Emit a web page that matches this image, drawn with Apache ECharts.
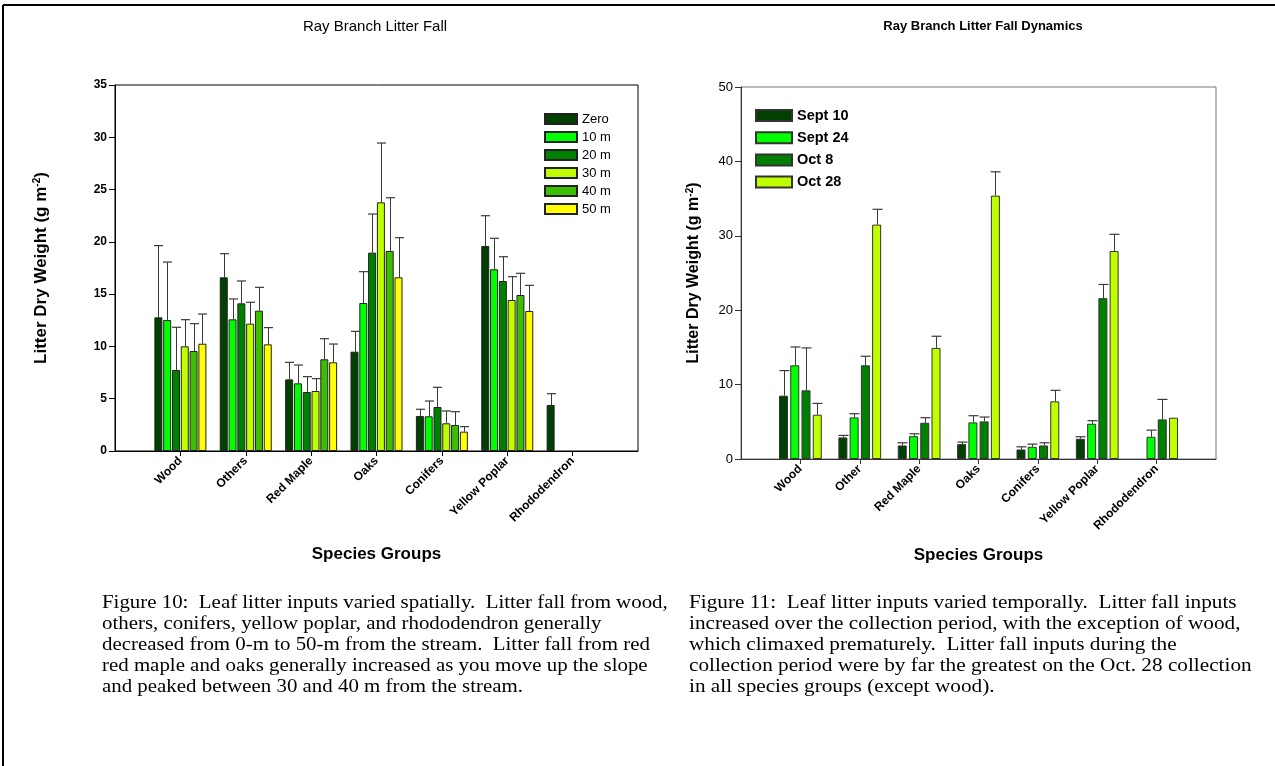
<!DOCTYPE html>
<html>
<head>
<meta charset="utf-8">
<script src="https://cdn.jsdelivr.net/npm/echarts@6/dist/echarts.min.js"></script>
<style>
html,body{margin:0;padding:0;background:#fff;}
#c{width:1275px;height:766px;}
</style>
</head>
<body>
<div id="c"></div>
<script>
// ---- Figure 10 data (spatial) ----
const catsLeft = ['Wood','Others','Red Maple','Oaks','Conifers','Yellow Poplar','Rhododendron'];
const seriesLeft = ['Zero','10 m','20 m','30 m','40 m','50 m'];
const zeroVals   = [12.78, 16.61, 6.85, 9.50, 3.35, 19.60, 4.40];
const zeroErr    = [19.64, 18.87, 8.48, 11.44, 3.99, 22.50, 5.48];
const m10Vals    = [12.53, 12.59, 6.47, 14.15, 3.32, 17.38, null];
const m10Err     = [18.07, 14.54, 8.22, 17.15, 4.78, 20.34, null];
const m20Vals    = [7.75, 14.12, 5.64, 18.97, 4.21, 16.26, null];
const m20Err     = [11.83, 16.26, 7.11, 22.66, 6.09, 18.58, null];
const m30Vals    = [10.01, 12.18, 5.74, 23.78, 2.65, 14.44, null];
const m30Err     = [12.56, 14.22, 6.92, 29.45, 3.83, 16.67, null];
const m40Vals    = [9.56, 13.42, 8.77, 19.13, 2.49, 14.92, null];
const m40Err     = [12.18, 15.65, 10.74, 24.22, 3.76, 16.99, null];
const m50Vals    = [10.26, 10.20, 8.48, 16.61, 1.85, 13.39, null];
const m50Err     = [13.10, 11.80, 10.23, 20.40, 2.33, 15.84, null];
const yTicksLeft = [0, 5, 10, 15, 20, 25, 30, 35];

// ---- Figure 11 data (temporal) ----
const catsRight = ['Wood','Other','Red Maple','Oaks','Conifers','Yellow Poplar','Rhododendron'];
const seriesRight = ['Sept 10','Sept 24','Oct 8','Oct 28'];
const sep10Vals = [8.51, 2.90, 1.82, 2.00, 1.28, 2.72, null];
const sep10Err  = [11.88, 3.17, 2.18, 2.27, 1.64, 2.99, null];
const sep24Vals = [12.59, 5.59, 3.07, 4.92, 1.64, 4.74, 2.99];
const sep24Err  = [15.06, 6.09, 3.39, 5.82, 2.00, 5.15, 3.88];
const oct8Vals  = [9.23, 12.59, 4.87, 5.05, 1.82, 21.62, 5.32];
const oct8Err   = [14.93, 13.81, 5.55, 5.64, 2.18, 23.46, 8.01];
const oct28Vals = [5.95, 31.50, 14.93, 35.40, 7.75, 27.95, 5.55];
const oct28Err  = [7.47, 33.56, 16.50, 38.60, 9.23, 30.20, null];
const yTicksRight = [0, 10, 20, 30, 40, 50];

const colorsLeft  = ['#004000', '#00FF00', '#008000', '#C0FF00', '#3CBF00', '#FFFF00'];
const colorsRight = ['#004000', '#00FF00', '#008000', '#C0FF00'];

const FONT = '"Liberation Sans", Arial, sans-serif';
const SERIF = '18px "Liberation Serif", "Times New Roman", serif';
const pad = arr => [null].concat(arr, [null]);

const leftVals = [zeroVals, m10Vals, m20Vals, m30Vals, m40Vals, m50Vals];
const leftErrs = [zeroErr, m10Err, m20Err, m30Err, m40Err, m50Err];
const rightVals = [sep10Vals, sep24Vals, oct8Vals, oct28Vals];
const rightErrs = [sep10Err, sep24Err, oct8Err, oct28Err];

const LBW = 8, LGAP = 0.1;
const RBW = 9, RGAP = 0.25;

function errSeries(gridIdx, vals, errs, i, n, bw, gap, color) {
  const step = bw * (1 + gap);
  const off = (i - (n - 1) / 2) * step;
  const data = [];
  vals.forEach((v, k) => {
    if (v != null && errs[k] != null) data.push([k + 1, v, errs[k]]);
  });
  return {
    type: 'custom',
    xAxisIndex: gridIdx, yAxisIndex: gridIdx,
    z: 5,
    silent: true,
    data: data,
    encode: { x: 0, y: [1, 2] },
    renderItem: function (params, api) {
      const c = api.value(0);
      const p0 = api.coord([c, api.value(1)]);
      const p1 = api.coord([c, api.value(2)]);
      const x = Math.round(p0[0] + off) + 0.5;
      const half = bw / 2 + 0.5;
      return {
        type: 'group',
        children: [
          { type: 'line', shape: { x1: x, y1: p0[1], x2: x, y2: p1[1] }, style: { stroke: color, lineWidth: 1 } },
          { type: 'line', shape: { x1: x - half, y1: p1[1], x2: x + half, y2: p1[1] }, style: { stroke: color, lineWidth: 1.2 } }
        ]
      };
    }
  };
}

const series = [];
seriesLeft.forEach((name, i) => {
  series.push({
    type: 'bar', name: name, xAxisIndex: 0, yAxisIndex: 0,
    data: pad(leftVals[i]),
    barWidth: LBW, barGap: (LGAP * 100) + '%',
    itemStyle: { color: colorsLeft[i], borderColor: '#222', borderWidth: 1 },
    z: 3
  });
});
seriesLeft.forEach((name, i) => {
  series.push(errSeries(0, leftVals[i], leftErrs[i], i, seriesLeft.length, LBW, LGAP, '#3a3a3a'));
});
seriesRight.forEach((name, i) => {
  series.push({
    type: 'bar', name: name, xAxisIndex: 1, yAxisIndex: 1,
    data: pad(rightVals[i]),
    barWidth: RBW, barGap: (RGAP * 100) + '%',
    itemStyle: { color: colorsRight[i], borderColor: '#333', borderWidth: 1 },
    z: 3
  });
});
seriesRight.forEach((name, i) => {
  series.push(errSeries(1, rightVals[i], rightErrs[i], i, seriesRight.length, RBW, RGAP, '#3a3a3a'));
});

const tickShow = (idx) => idx > 0 && idx < 8;

const captionLeft = [
  'Figure 10:  Leaf litter inputs varied spatially.  Litter fall from wood,',
  'others, conifers, yellow poplar, and rhododendron generally',
  'decreased from 0-m to 50-m from the stream.  Litter fall from red',
  'red maple and oaks generally increased as you move up the slope',
  'and peaked between 30 and 40 m from the stream.'
];
const captionRight = [
  'Figure 11:  Leaf litter inputs varied temporally.  Litter fall inputs',
  'increased over the collection period, with the exception of wood,',
  'which climaxed prematurely.  Litter fall inputs during the',
  'collection period were by far the greatest on the Oct. 28 collection',
  'in all species groups (except wood).'
];

const graphics = [
  { type: 'line', shape: { x1: 3, y1: 5, x2: 1275, y2: 5 }, style: { stroke: '#000', lineWidth: 2 } },
  { type: 'line', shape: { x1: 3, y1: 5, x2: 3, y2: 766 }, style: { stroke: '#000', lineWidth: 2 } }
];
captionLeft.forEach((t, k) => graphics.push({
  type: 'text', x: 102, y: 603 + k * 21, scaleX: 1.16,
  style: { text: t, font: SERIF, fill: '#000', verticalAlign: 'middle', align: 'left' }
}));
captionRight.forEach((t, k) => graphics.push({
  type: 'text', x: 689, y: 603 + k * 21, scaleX: 1.18,
  style: { text: t, font: SERIF, fill: '#000', verticalAlign: 'middle', align: 'left' }
}));

const option = {
  animation: false,
  backgroundColor: '#fff',
  textStyle: { fontFamily: FONT },
  title: [
    { text: 'Ray Branch Litter Fall', left: 370, top: 14, textAlign: 'center',
      textStyle: { fontFamily: FONT, fontSize: 15, fontWeight: 'normal', color: '#000' } },
    { text: 'Ray Branch Litter Fall Dynamics', left: 978, top: 15, textAlign: 'center',
      textStyle: { fontFamily: FONT, fontSize: 13, fontWeight: 'bold', color: '#000' } }
  ],
  legend: [
    { data: seriesLeft, orient: 'vertical', left: 539, top: 107.5, icon: 'rect', itemWidth: 32, itemHeight: 10, itemGap: 5,
      textStyle: { fontFamily: FONT, fontSize: 13, color: '#000' }, selectedMode: false },
    { data: seriesRight, orient: 'vertical', left: 750, top: 103, icon: 'rect', itemWidth: 36, itemHeight: 11, itemGap: 7.2,
      textStyle: { fontFamily: FONT, fontSize: 14.5, fontWeight: 'bold', color: '#000' }, selectedMode: false }
  ],
  grid: [
    { left: 115, top: 85, width: 523, height: 366, show: true, borderColor: '#000', borderWidth: 1, containLabel: false },
    { left: 741, top: 87, width: 475, height: 372, show: true, borderColor: '#777', borderWidth: 1, containLabel: false }
  ],
  xAxis: [
    { type: 'category', gridIndex: 0, data: pad(catsLeft), boundaryGap: false,
      axisLine: { lineStyle: { color: '#000', width: 1 } },
      axisTick: { show: true, interval: tickShow, length: 5, lineStyle: { color: '#000' } },
      axisLabel: { interval: tickShow, rotate: 45, margin: 8, fontFamily: FONT, fontSize: 12, fontWeight: 'bold', color: '#000' },
      splitLine: { show: false },
      name: 'Species Groups', nameLocation: 'middle', nameGap: 95,
      nameTextStyle: { fontFamily: FONT, fontSize: 17, fontWeight: 'bold', color: '#000' } },
    { type: 'category', gridIndex: 1, data: pad(catsRight), boundaryGap: false,
      axisLine: { lineStyle: { color: '#333', width: 1 } },
      axisTick: { show: true, interval: tickShow, length: 5, lineStyle: { color: '#333' } },
      axisLabel: { interval: tickShow, rotate: 45, margin: 8, fontFamily: FONT, fontSize: 12, fontWeight: 'bold', color: '#000' },
      splitLine: { show: false },
      name: 'Species Groups', nameLocation: 'middle', nameGap: 88,
      nameTextStyle: { fontFamily: FONT, fontSize: 17, fontWeight: 'bold', color: '#000' } }
  ],
  yAxis: [
    { type: 'value', gridIndex: 0, min: yTicksLeft[0], max: yTicksLeft[yTicksLeft.length - 1], interval: 5,
      axisLine: { show: true, lineStyle: { color: '#000' } },
      axisTick: { show: true, length: 6, lineStyle: { color: '#000' } },
      axisLabel: { fontFamily: FONT, fontSize: 12, fontWeight: 'bold', color: '#000', margin: 8 },
      splitLine: { show: false },
      name: '{a|Litter Dry Weight (g m}{s|-2}{a|)}', nameLocation: 'middle', nameGap: 65,
      nameTextStyle: { rich: {
        a: { fontFamily: FONT, fontSize: 17, fontWeight: 'bold', color: '#000' },
        s: { fontFamily: FONT, fontSize: 10, fontWeight: 'bold', color: '#000', verticalAlign: 'top', padding: [0, 0, 8, 0] }
      } } },
    { type: 'value', gridIndex: 1, min: yTicksRight[0], max: yTicksRight[yTicksRight.length - 1], interval: 10,
      axisLine: { show: true, lineStyle: { color: '#333' } },
      axisTick: { show: true, length: 6, lineStyle: { color: '#333' } },
      axisLabel: { fontFamily: FONT, fontSize: 13, color: '#000', margin: 8 },
      splitLine: { show: false },
      name: '{a|Litter Dry Weight (g m}{s|-2}{a|)}', nameLocation: 'middle', nameGap: 38,
      nameTextStyle: { rich: {
        a: { fontFamily: FONT, fontSize: 16, fontWeight: 'bold', color: '#000' },
        s: { fontFamily: FONT, fontSize: 10, fontWeight: 'bold', color: '#000', verticalAlign: 'top', padding: [0, 0, 8, 0] }
      } } }
  ],
  graphic: graphics,
  series: series
};

const chart = echarts.init(document.getElementById('c'), null, { renderer: 'canvas' });
chart.setOption(option);
</script>
</body>
</html>
